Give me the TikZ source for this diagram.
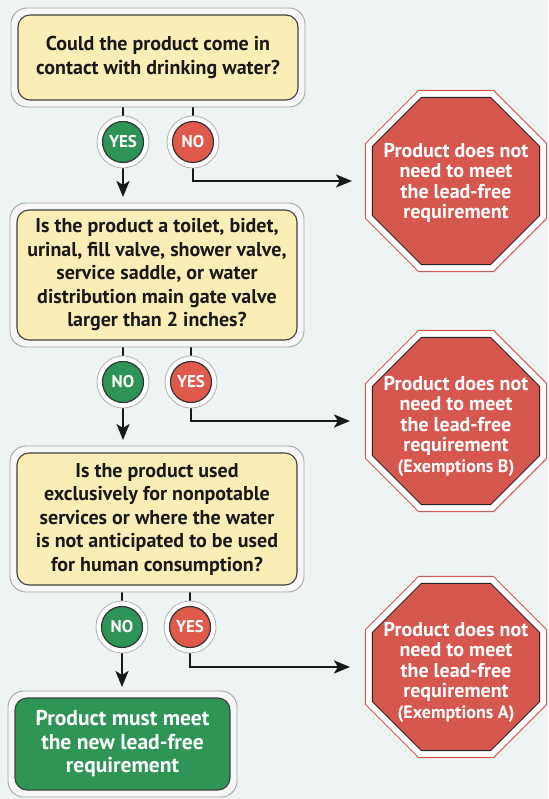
\documentclass[tikz,border=0pt]{standalone}
\usepackage{fontspec}
\setmainfont{PT Sans}
\usetikzlibrary{shapes.geometric,arrows.meta,calc}
\definecolor{bgc}{HTML}{EDF4F3}
\definecolor{qyellow}{HTML}{FBEDB6}
\definecolor{ansgreen}{HTML}{2E9455}
\definecolor{ansred}{HTML}{E05A4C}
\definecolor{octred}{HTML}{D5574D}
\definecolor{boxgreen}{HTML}{2F9555}
\definecolor{frameg}{HTML}{F6F7F6}
\newcommand\qfont{\bfseries\fontsize{20}{23.5}\selectfont}
\newcommand\ofont{\bfseries\fontsize{20}{20.5}\selectfont}
\newcommand\smfont{\bfseries\fontsize{18}{20}\selectfont}
\newcommand\afont{\bfseries\fontsize{17}{17}\selectfont}
\newcommand\gfont{\bfseries\fontsize{21.5}{23.5}\selectfont}
\pgfdeclarelayer{bgl}
\pgfdeclarelayer{lines}
\pgfsetlayers{bgl,lines,main}
\begin{document}
\begin{tikzpicture}[x=1pt,y=-1pt,
  qframe/.style={rounded corners=16pt, fill=frameg, draw=black!35, line width=0.9pt, inner sep=0pt},
  qbox/.style={rounded corners=12pt, fill=qyellow, draw=black!75, line width=1.1pt, align=center, font=\qfont, text=black!90, inner sep=0pt, minimum width=280pt},
  ring/.style={circle, minimum size=52pt, fill=white, draw=black!30, line width=0.8pt, inner sep=0pt},
  ansyes/.style={circle, minimum size=41pt, fill=ansgreen, draw=black!80, line width=1.2pt, text=white, font=\afont, inner sep=0pt},
  ansno/.style={circle, minimum size=41pt, fill=ansred, draw=black!80, line width=1.2pt, text=white, font=\afont, inner sep=0pt},
  octout/.style={regular polygon, regular polygon sides=8, minimum size=196pt, fill=white, draw=octred, line width=1pt, inner sep=0pt},
  octin/.style={regular polygon, regular polygon sides=8, minimum size=181pt, fill=octred, draw=black!85, line width=1pt, inner sep=0pt},
  octtext/.style={inner sep=0pt, text=white, font=\ofont, align=center},
  arr/.style={line width=2.4pt, draw=black!90, -{Stealth[length=16pt,width=13pt,inset=4pt]}}
]
\begin{pgfonlayer}{bgl}
\fill[bgc] (0,0) rectangle (548,799);
\end{pgfonlayer}
\useasboundingbox (0,0) rectangle (548,799);

% question 1
\node[qframe, minimum width=294pt, minimum height=99pt] (q1f) at (158,57.5) {};
\node[qbox, minimum height=85pt] (q1) at (158,57.5) {Could the product come in\\contact with drinking water?};
\node[ring] (y1r) at (123,142) {};
\node[ansyes] (y1) at (123,142) {YES};
\node[ring] (n1r) at (193,142) {};
\node[ansno] (n1) at (193,142) {NO};

% question 2
\node[qframe, minimum width=294pt, minimum height=144pt] (q2f) at (157,275) {};
\node[qbox, minimum height=130pt] (q2) at (157,275) {Is the product a toilet, bidet,\\urinal, fill valve, shower valve,\\service saddle, or water\\distribution main gate valve\\larger than 2 inches?};
\node[ring] (n2r) at (123,382) {};
\node[ansyes] (n2) at (123,382) {NO};
\node[ring] (y2r) at (191,382) {};
\node[ansno] (y2) at (191,382) {YES};

% question 3
\node[qframe, minimum width=294pt, minimum height=146pt] (q3f) at (157,519) {};
\node[qbox, minimum height=132pt] (q3) at (157,519) {Is the product used\\exclusively for nonpotable\\services or where the water\\is not anticipated to be used\\for human consumption?};
\node[ring] (n3r) at (122,627) {};
\node[ansyes] (n3) at (122,627) {NO};
\node[ring] (y3r) at (190,627) {};
\node[ansno] (y3) at (190,627) {YES};

% final green box
\node[qframe, minimum width=229pt, minimum height=106pt] (gf) at (122.5,744) {};
\node[rounded corners=12pt, fill=boxgreen, draw=black!75, line width=1.1pt, minimum width=215pt, minimum height=92pt, inner sep=0pt, align=center, text=white, font=\gfont] (g) at (122.5,744) {Product must meet\\the new lead-free\\requirement};

% octagons
\node[octout] (o1o) at (456,181) {};
\node[octin] (o1) at (456,181) {};
\node[octtext] (o1t) at (456,183) {Product does not\\need to meet\\the lead-free\\requirement};
\node[octout] (o2o) at (456,421) {};
\node[octin] (o2) at (456,421) {};
\node[octtext] (o2t) at (456,426) {Product does not\\need to meet\\the lead-free\\requirement\\{\smfont (Exemptions B)}};
\node[octout] (o3o) at (456,667) {};
\node[octin] (o3) at (456,667) {};
\node[octtext] (o3t) at (456,672) {Product does not\\need to meet\\the lead-free\\requirement\\{\smfont (Exemptions A)}};

\coordinate (a1) at (123,197);
\coordinate (e1) at (352,181);
\coordinate (a2) at (123,440);
\coordinate (e2) at (350,421);
\coordinate (a3) at (122,687);
\coordinate (e3) at (350,667);

\begin{pgfonlayer}{lines}
\draw[arr] (q1.south -| y1) -- (a1);
\draw[arr] (q1.south -| n1) |- (e1);
\draw[arr] (q2.south -| n2) -- (a2);
\draw[arr] (q2.south -| y2) |- (e2);
\draw[arr] (q3.south -| n3) -- (a3);
\draw[arr] (q3.south -| y3) |- (e3);
\end{pgfonlayer}
\end{tikzpicture}
\end{document}
